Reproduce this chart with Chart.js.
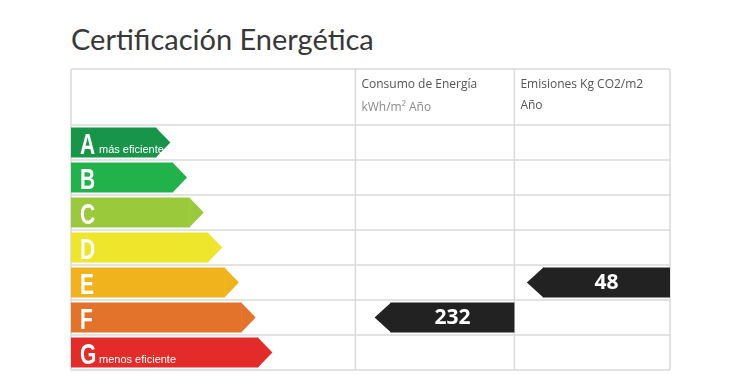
<!DOCTYPE html>
<html>
<head>
<meta charset="utf-8">
<script src="https://cdn.jsdelivr.net/npm/chart.js@4.4.1/dist/chart.umd.min.js"></script>
<style>
  html, body { margin: 0; padding: 0; background: #fff; }
  #wrap { position: relative; width: 751px; height: 374px; overflow: hidden; }
  #titulo {
    position: absolute; left: 71px; top: 21px;
    font-family: Lato, "Open Sans", sans-serif; font-size: 29px; color: #383838;
    white-space: nowrap;
  }
  #grafico { position: absolute; left: 0; top: 0; }
</style>
</head>
<body>
<div id="wrap">
  <div id="titulo">Certificación Energética</div>
  <canvas id="grafico" width="751" height="374"></canvas>
</div>
<script>
// Escala energética
const categorias = ['A', 'B', 'C', 'D', 'E', 'F', 'G'];
const longitudes = [5.1, 6.1, 7.1, 8.2, 9.2, 10.2, 11.2];
const colores = ['#189548', '#22b24c', '#9bc93c', '#ede62a', '#f0b31e', '#e3722a', '#e32c2a'];
const subtitulos = ['más eficiente', '', '', '', '', '', 'menos eficiente'];

// Bordes de las columnas de la tabla (en unidades del eje x)
const columnas = [0, 17, 26.5, 35.8];

// Valores del certificado
const consumoClase = 'F';
const consumoValor = 232;
const consumoRango = [19.1, 26.5];
const emisionesClase = 'E';
const emisionesValor = 48;
const emisionesRango = [28.2, 35.8];

const cabecera1 = ['Consumo de Energía', 'kWh/m² Año'];
const cabecera2 = ['Emisiones Kg CO2/m2', 'Año'];

const ctx = document.getElementById('grafico');

function filaCon(clase, rango) {
  return categorias.map(c => (c === clase ? rango : null));
}

const PUNTA = 14;

const pluginTabla = {
  id: 'tabla',
  beforeDatasetsDraw(chart) {
    const c = chart.ctx;
    const x = chart.scales.x;
    const y = chart.scales.y;
    const area = chart.chartArea;
    const alto = (y.getPixelForValue(1) - y.getPixelForValue(0));
    const arribaCab = area.top - 56;
    c.save();
    c.strokeStyle = '#dadada';
    c.lineWidth = 1.5;
    // filas
    c.beginPath();
    c.moveTo(area.left, arribaCab); c.lineTo(area.right, arribaCab);
    for (let i = 0; i <= categorias.length; i++) {
      const py = y.getPixelForValue(0) - alto / 2 + i * alto;
      c.moveTo(area.left, py); c.lineTo(area.right, py);
    }
    // columnas
    columnas.forEach(v => {
      const px = x.getPixelForValue(v);
      c.moveTo(px, arribaCab); c.lineTo(px, area.bottom);
    });
    c.stroke();

    // cabecera
    c.fillStyle = '#555';
    c.font = '12px "Open Sans", sans-serif';
    c.textBaseline = 'middle';
    c.textAlign = 'left';
    const x1 = x.getPixelForValue(columnas[1]) + 6;
    const x2 = x.getPixelForValue(columnas[2]) + 6;
    c.fillText(cabecera1[0], x1, arribaCab + 16);
    c.fillStyle = '#8a8a8a';
    c.fillText(cabecera1[1], x1, arribaCab + 39);
    c.fillStyle = '#555';
    c.fillText(cabecera2[0], x2, arribaCab + 16);
    c.fillText(cabecera2[1], x2, arribaCab + 37);
    c.restore();
  },
  afterDatasetsDraw(chart) {
    const c = chart.ctx;
    c.save();
    // puntas de las flechas de colores y letras
    chart.getDatasetMeta(0).data.forEach((bar, i) => {
      const top = bar.y - bar.height / 2;
      const bot = bar.y + bar.height / 2;
      c.fillStyle = colores[i];
      c.beginPath();
      c.moveTo(bar.x - 0.5, top);
      c.lineTo(bar.x + PUNTA, bar.y);
      c.lineTo(bar.x - 0.5, bot);
      c.closePath();
      c.fill();

      c.fillStyle = '#fff';
      c.textBaseline = 'alphabetic';
      c.textAlign = 'left';
      c.save();
      c.translate(bar.base + 9, bar.y + 11);
      c.scale(0.7, 1);
      c.font = 'bold 30px "Liberation Sans Narrow", "Liberation Sans", sans-serif';
      c.fillText(categorias[i], 0, 0);
      c.restore();
      if (subtitulos[i]) {
        c.font = '11px "Liberation Sans Narrow", "Liberation Sans", sans-serif';
        c.fillText(subtitulos[i], bar.base + 28, bar.y + 10);
      }
    });

    // flechas negras con los valores
    [[1, consumoValor], [2, emisionesValor]].forEach(([ds, valor]) => {
      const datos = chart.data.datasets[ds].data;
      chart.getDatasetMeta(ds).data.forEach((bar, i) => {
        if (datos[i] == null || !bar) return;
        const top = bar.y - bar.height / 2;
        const bot = bar.y + bar.height / 2;
        const izq = Math.min(bar.x, bar.base);
        const der = Math.max(bar.x, bar.base);
        c.fillStyle = '#222';
        c.beginPath();
        c.moveTo(izq + 0.5, top);
        c.lineTo(izq - 16, bar.y);
        c.lineTo(izq + 0.5, bot);
        c.closePath();
        c.fill();
        c.fillStyle = '#fff';
        c.font = 'bold 21px "Open Sans", sans-serif';
        c.textAlign = 'center';
        c.textBaseline = 'middle';
        c.fillText(String(valor), (izq + der) / 2, bar.y + 1);
      });
    });
    c.restore();
  }
};

const grafico = new Chart(ctx, {
  type: 'bar',
  data: {
    labels: categorias,
    datasets: [
      {
        label: 'Escala',
        data: longitudes,
        backgroundColor: colores,
        barPercentage: 0.86,
        categoryPercentage: 1,
        grouped: false
      },
      {
        label: 'Consumo de Energía',
        data: filaCon(consumoClase, consumoRango),
        backgroundColor: '#222',
        barPercentage: 0.86,
        categoryPercentage: 1,
        grouped: false
      },
      {
        label: 'Emisiones',
        data: filaCon(emisionesClase, emisionesRango),
        backgroundColor: '#222',
        barPercentage: 0.86,
        categoryPercentage: 1,
        grouped: false
      }
    ]
  },
  options: {
    indexAxis: 'y',
    responsive: false,
    animation: false,
    layout: { padding: { left: 71, right: 81, top: 125, bottom: 4 } },
    scales: {
      x: { display: false, min: 0, max: columnas[columnas.length - 1] },
      y: { display: false }
    },
    plugins: {
      legend: { display: false },
      tooltip: { enabled: false }
    }
  },
  plugins: [pluginTabla]
});
</script>
</body>
</html>
